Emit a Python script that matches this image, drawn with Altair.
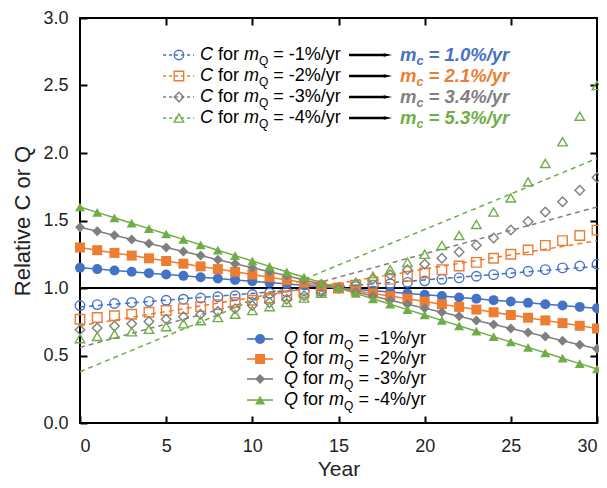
import altair as alt
import pandas as pd

# ---------------- data ----------------
years = list(range(31))
series = ["-1%", "-2%", "-3%", "-4%"]
colors = ["#4472C4", "#ED7D31", "#7F7F7F", "#70AD47"]
shapes = ["circle", "square", "diamond", "triangle-up"]
mc_labels = ["1.0%/yr", "2.1%/yr", "3.4%/yr", "5.3%/yr"]

q_vals = {
    "-1%": [1.15, 1.14, 1.13, 1.12, 1.11, 1.10, 1.09, 1.08, 1.07, 1.06, 1.05, 1.04, 1.03, 1.02, 1.01, 1.00,
            0.99, 0.98, 0.97, 0.96, 0.95, 0.94, 0.93, 0.92, 0.91, 0.90, 0.89, 0.88, 0.87, 0.86, 0.85],
    "-2%": [1.30, 1.28, 1.26, 1.24, 1.22, 1.20, 1.18, 1.16, 1.14, 1.12, 1.10, 1.08, 1.06, 1.04, 1.02, 1.00,
            0.98, 0.96, 0.94, 0.92, 0.90, 0.88, 0.86, 0.84, 0.82, 0.80, 0.78, 0.76, 0.74, 0.72, 0.70],
    "-3%": [1.45, 1.42, 1.39, 1.36, 1.33, 1.30, 1.27, 1.24, 1.21, 1.18, 1.15, 1.12, 1.09, 1.06, 1.03, 1.00,
            0.97, 0.94, 0.91, 0.88, 0.85, 0.82, 0.79, 0.76, 0.73, 0.70, 0.67, 0.64, 0.61, 0.58, 0.55],
    "-4%": [1.60, 1.56, 1.52, 1.48, 1.44, 1.40, 1.36, 1.32, 1.28, 1.24, 1.20, 1.16, 1.12, 1.08, 1.04, 1.00,
            0.96, 0.92, 0.88, 0.84, 0.80, 0.76, 0.72, 0.68, 0.64, 0.60, 0.56, 0.52, 0.48, 0.44, 0.40],
}
c_vals = {
    "-1%": [0.870, 0.877, 0.885, 0.893, 0.901, 0.909, 0.917, 0.926, 0.935, 0.943, 0.952, 0.962, 0.971, 0.980,
            0.990, 1.000, 1.010, 1.020, 1.031, 1.042, 1.053, 1.064, 1.075, 1.087, 1.099, 1.111, 1.124, 1.136,
            1.149, 1.163, 1.176],
    "-2%": [0.769, 0.781, 0.794, 0.806, 0.820, 0.833, 0.847, 0.862, 0.877, 0.893, 0.909, 0.926, 0.943, 0.962,
            0.980, 1.000, 1.020, 1.042, 1.064, 1.087, 1.111, 1.136, 1.163, 1.190, 1.220, 1.250, 1.282, 1.316,
            1.351, 1.389, 1.429],
    "-3%": [0.690, 0.704, 0.719, 0.735, 0.752, 0.769, 0.787, 0.806, 0.826, 0.847, 0.870, 0.893, 0.917, 0.943,
            0.971, 1.000, 1.031, 1.064, 1.099, 1.136, 1.176, 1.220, 1.266, 1.316, 1.370, 1.429, 1.493, 1.563,
            1.639, 1.724, 1.818],
    "-4%": [0.625, 0.641, 0.658, 0.676, 0.694, 0.714, 0.735, 0.758, 0.781, 0.806, 0.833, 0.862, 0.893, 0.926,
            0.962, 1.000, 1.042, 1.087, 1.136, 1.190, 1.250, 1.316, 1.389, 1.471, 1.563, 1.667, 1.786, 1.923,
            2.083, 2.273, 2.500],
}
fit_years = [0, 30]
fit_vals = {
    "-1%": [0.86, 1.16],
    "-2%": [0.72, 1.35],
    "-3%": [0.56, 1.60],
    "-4%": [0.38, 1.96],
}
ref_level = [1.0]

# ---------------- tables ----------------
rows_q, rows_c, rows_f = [], [], []
for s in series:
    for t, q, c in zip(years, q_vals[s], c_vals[s]):
        rows_q.append({"s": s, "year": t, "v": q})
        rows_c.append({"s": s, "year": t, "v": c})
    for t, f in zip(fit_years, fit_vals[s]):
        rows_f.append({"s": s, "year": t, "v": f})
dq, dc, dfit = pd.DataFrame(rows_q), pd.DataFrame(rows_c), pd.DataFrame(rows_f)

FONT = "Liberation Sans, Arial, sans-serif"
xs = alt.Scale(domain=[0, 30], nice=False)
ys = alt.Scale(domain=[0, 3], nice=False)
col = alt.Color("s:N", scale=alt.Scale(domain=series, range=colors), legend=None)
shp = alt.Shape("s:N", scale=alt.Scale(domain=series, range=shapes), legend=None)

x_main = alt.X("year:Q", scale=xs, title="Year",
               axis=alt.Axis(orient="bottom", values=list(range(0, 31, 5)), format="d", grid=False,
                             domain=False, tickSize=7, offset=-7, labelPadding=14, titlePadding=3,
                             titleFontSize=21))
y_main = alt.Y("v:Q", scale=ys, title="Relative C or Q",
               axis=alt.Axis(orient="left", values=[0, 0.5, 1, 1.5, 2, 2.5, 3], format=".1f", grid=False,
                             domain=False, tickSize=7, offset=-7, labelPadding=12, titlePadding=8))
x_top = alt.X("year:Q", scale=xs, title=None,
              axis=alt.Axis(orient="top", values=[5, 10, 15, 20, 25], labels=False, grid=False,
                            domain=False, tickSize=7, offset=-7))
y_right = alt.Y("v:Q", scale=ys, title=None,
                axis=alt.Axis(orient="right", values=[0.5, 1, 1.5, 2, 2.5], labels=False, grid=False,
                              domain=False, tickSize=7, offset=-7))
xn = alt.X("year:Q", scale=xs, axis=None)
yn = alt.Y("v:Q", scale=ys, axis=None)

fit = alt.Chart(dfit).mark_line(strokeDash=[5, 4], strokeWidth=1.5).encode(
    x=x_top, y=y_right, color=col, detail="s:N")
hline = alt.Chart(pd.DataFrame({"v": ref_level})).mark_rule(color="black", strokeWidth=2).encode(y=yn)
c_pts = alt.Chart(dc).mark_point(filled=False, size=90, strokeWidth=1.4, opacity=1).encode(
    x=xn, y=yn, color=col, shape=shp)
q_line = alt.Chart(dq).mark_line(strokeWidth=1.5).encode(x=xn, y=yn, color=col, detail="s:N")
q_pts = alt.Chart(dq).mark_point(filled=True, size=100, opacity=1).encode(
    x=x_main, y=y_main, color=col, shape=shp)

# ---------------- custom legends ----------------
W_REG = {' ': 278, 'C': 722, 'Q': 778, 'f': 278, 'o': 556, 'r': 333, 'm': 833, '=': 584, '-': 333,
         '%': 889, '/': 278, 'y': 500, 'c': 500, '.': 278}
W_BOLD = {' ': 278, 'm': 889, 'c': 556, '=': 584, '%': 889, '/': 278, 'y': 556, 'r': 389, '.': 278, '-': 333}


def tw(s, size, bold=False):
    tb = W_BOLD if bold else W_REG
    return sum((556 if ch.isdigit() else tb[ch]) for ch in s) * size / 1000.0


FS, SUB = 18, 12
MCS, MSUB = 18.5, 12.5
top_y = [2.726, 2.570, 2.415, 2.259]
bot_y = [0.622, 0.474, 0.326, 0.170]

top = pd.DataFrame({
    "s": series, "v": top_y,
    "x0": 4.82, "x1": 6.62, "xm": 5.74, "xt": 6.96,
    "a0": 15.61, "a1": 17.70, "ah": 17.87, "xmc": 18.57,
    "num": ["= " + s + "/yr" for s in series],
    "mc": ["= " + m for m in mc_labels],
})
bot = pd.DataFrame({
    "s": series, "v": bot_y,
    "x0": 9.69, "x1": 11.2, "xm": 10.45, "xt": 11.84,
    "num": ["= " + s + "/yr" for s in series],
})


def seg_text(df, letter, xfield="xt"):
    """Build 'L for m_Q = ...' as separate text pieces."""
    sp = tw(" ", FS)
    d_for = tw(letter, FS) + sp
    d_m = d_for + tw("for", FS) + sp
    d_q = d_m + tw("m", FS)
    d_num = d_q + tw("Q", SUB) + sp
    base = alt.Chart(df)
    enc = dict(x=alt.X(f"{xfield}:Q", scale=xs, axis=None), y=alt.Y("v:Q", scale=ys, axis=None))
    kw = dict(align="left", baseline="middle", font=FONT, color="black")
    return [
        base.mark_text(text=letter, fontSize=FS, fontStyle="italic", dx=0, **kw).encode(**enc),
        base.mark_text(text="for", fontSize=FS, dx=d_for, **kw).encode(**enc),
        base.mark_text(text="m", fontSize=FS, fontStyle="italic", dx=d_m, **kw).encode(**enc),
        base.mark_text(text="Q", fontSize=SUB, dx=d_q, dy=6, **kw).encode(**enc),
        base.mark_text(fontSize=FS, dx=d_num, **kw).encode(text="num:N", **enc),
    ]


def mc_text(df):
    d_c = tw("m", MCS, True)
    d_rest = d_c + tw("c", MSUB, True) + tw(" ", MCS, True)
    base = alt.Chart(df)
    enc = dict(x=alt.X("xmc:Q", scale=xs, axis=None), y=alt.Y("v:Q", scale=ys, axis=None), color=col)
    kw = dict(align="left", baseline="middle", font=FONT, fontWeight="bold", fontStyle="italic")
    return [
        base.mark_text(text="m", fontSize=MCS, dx=0, **kw).encode(**enc),
        base.mark_text(text="c", fontSize=MSUB, dx=d_c, dy=6, **kw).encode(**enc),
        base.mark_text(fontSize=MCS, dx=d_rest, **kw).encode(text="mc:N", **enc),
    ]


yl = alt.Y("v:Q", scale=ys, axis=None)
top_line = alt.Chart(top).mark_rule(strokeDash=[3, 3], strokeWidth=1.5).encode(
    x=alt.X("x0:Q", scale=xs, axis=None), x2="x1:Q", y=yl, color=col)
top_mark = alt.Chart(top).mark_point(filled=False, size=90, strokeWidth=1.4, opacity=1).encode(
    x=alt.X("xm:Q", scale=xs, axis=None), y=yl, color=col, shape=shp)
top_arrow = alt.Chart(top).mark_rule(color="black", strokeWidth=2.5).encode(
    x=alt.X("a0:Q", scale=xs, axis=None), x2="a1:Q", y=yl)
top_head = alt.Chart(top).mark_point(shape="M -1 -0.42 L 1 0 L -1 0.42 Z", filled=True, size=70,
                                     color="black", opacity=1).encode(
    x=alt.X("ah:Q", scale=xs, axis=None), y=yl)

bot_line = alt.Chart(bot).mark_rule(strokeWidth=1.6).encode(
    x=alt.X("x0:Q", scale=xs, axis=None), x2="x1:Q", y=yl, color=col)
bot_mark = alt.Chart(bot).mark_point(filled=True, size=100, opacity=1).encode(
    x=alt.X("xm:Q", scale=xs, axis=None), y=yl, color=col, shape=shp)

layers = [fit, hline, c_pts, q_line, q_pts,
          top_line, top_mark, top_arrow, top_head, *seg_text(top, "C"), *mc_text(top),
          bot_line, bot_mark, *seg_text(bot, "Q")]

chart = alt.layer(*layers).resolve_axis(x="independent", y="independent").properties(
    width=517, height=405,
    autosize=alt.AutoSizeParams(type="none"),
    padding={"left": 72, "top": 10, "right": 2, "bottom": 57},
).configure_view(stroke="black", strokeWidth=2).configure_axis(
    labelFont=FONT, titleFont=FONT, labelFontSize=18, titleFontSize=22, titleFontWeight="normal",
    labelColor="#222222", titleColor="#222222", tickColor="black", tickWidth=2
)

chart.save("out.html", embed_options={"renderer": "svg", "actions": False})
